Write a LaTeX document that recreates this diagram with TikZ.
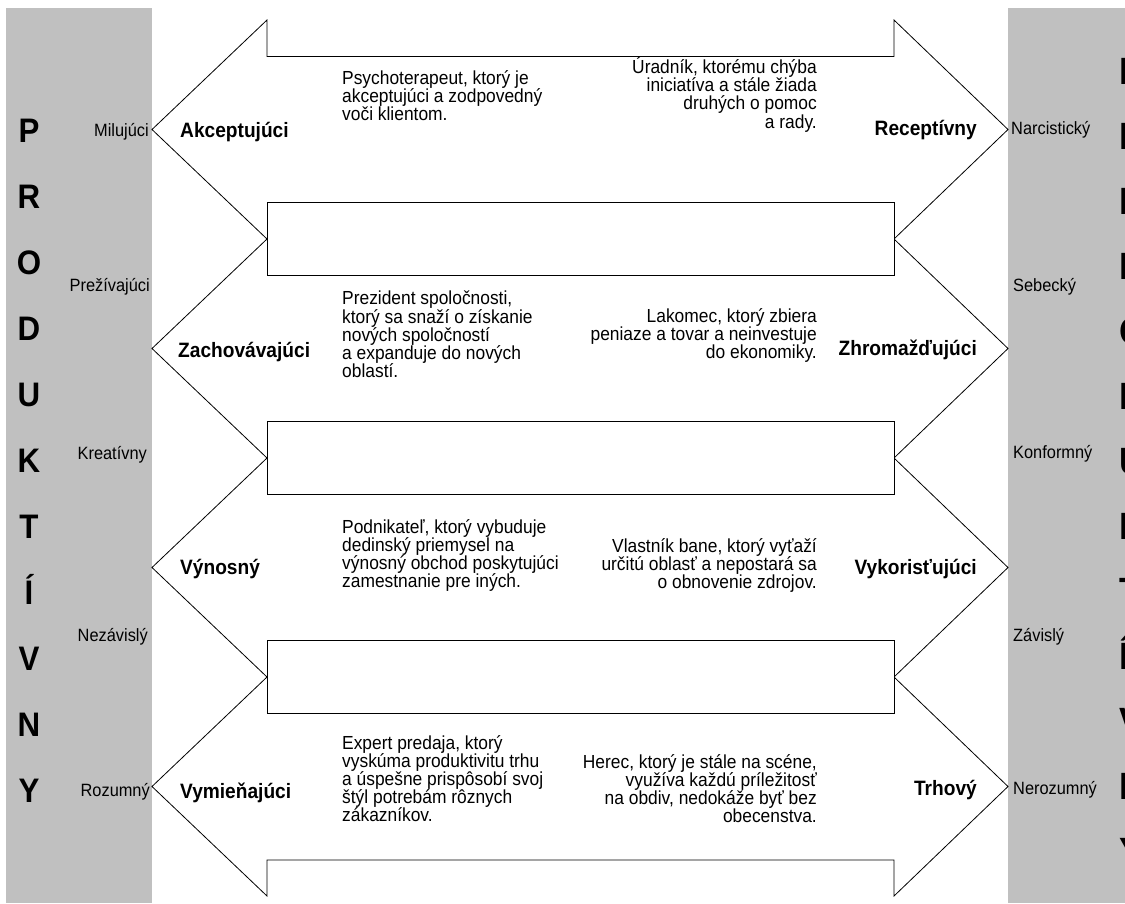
\documentclass[tikz,border=0pt]{standalone}
\usepackage{fontspec}
\setmainfont{Liberation Sans}[FakeStretch=0.92]
\definecolor{stripgray}{RGB}{192,192,192}
\begin{document}
\begin{tikzpicture}[x=1pt,y=-1pt,
  outline/.style={draw=black, line width=0.8pt, line join=miter},
  strip/.style={fill=stripgray, draw=none},
  bigletter/.style={font=\fontsize{34}{34}\selectfont\bfseries, inner sep=0pt, anchor=base},
  bigletterR/.style={font=\fontsize{38}{38}\selectfont\bfseries, inner sep=0pt, anchor=base west},
  traitL/.style={font=\fontsize{17.8}{18}\selectfont, inner sep=0pt, anchor=base east},
  traitR/.style={font=\fontsize{17.8}{18}\selectfont, inner sep=0pt, anchor=base west},
  kindL/.style={font=\fontsize{20.8}{21}\selectfont\bfseries, inner sep=0pt, anchor=base west},
  kindR/.style={font=\fontsize{20.8}{21}\selectfont\bfseries, inner sep=0pt, anchor=base east},
  exampleL/.style={font=\fontsize{18.9}{18.2}\selectfont, inner sep=0pt, align=left, anchor=north west},
  exampleR/.style={font=\fontsize{18.9}{18.2}\selectfont, inner sep=0pt, align=right, anchor=north east}]

\useasboundingbox (0,0) rectangle (1125,903);
\fill[white] (0,0) rectangle (1125,903);

% side strips
\fill[strip] (6,8) rectangle (152,903);
\fill[strip] (1008,8) rectangle (1125,903);

% four stacked double-headed arrows as one outline
\draw[outline, fill=white]
  (267,20) -- (267,56.5) -- (894,56.5) -- (894,20)
  -- (1008,129.5) -- (894,239) -- (1008,348.5) -- (894,458)
  -- (1008,567.5) -- (894,677) -- (1008,786.5) -- (894,896)
  -- (894,860) -- (267,860) -- (267,896)
  -- (152,786.5) -- (267,677) -- (152,567.5) -- (267,458)
  -- (152,348.5) -- (267,239) -- (152,129.5) -- cycle;

% gaps between the arrows
\draw[outline, fill=white] (267,202.5) rectangle (894,275.5);
\draw[outline, fill=white] (267,421.5) rectangle (894,494.5);
\draw[outline, fill=white] (267,640.5) rectangle (894,713.5);

% left strip: PRODUKTIVNY
\foreach \ch [count=\i from 0] in {P,R,O,D,U,K,T,Í,V,N,Y}
  \node[bigletter] (pl\i) at (29,{142+66*\i}) {\ch};

% right strip: NEPRODUKTIVNY, running off the edge
\begin{scope}
\clip (0,0) rectangle (1125,903);
\foreach \ch [count=\i from 0] in {N,E,P,R,O,D,U,K,T,Í,V,N,Y}
  \node[bigletterR] (pr\i) at (1119,{84+65*\i}) {\ch};
\end{scope}

% traits in the left strip
\node[traitL] (t1) at (149,136) {Milujúci};
\node[traitL] (t2) at (150,291) {Prežívajúci};
\node[traitL] (t3) at (147,459) {Kreatívny};
\node[traitL] (t4) at (148,641) {Nezávislý};
\node[traitL] (t5) at (150,796) {Rozumný};

% traits in the right strip
\node[traitR] (u1) at (1011,134) {Narcistický};
\node[traitR] (u2) at (1013,291) {Sebecký};
\node[traitR] (u3) at (1013,458) {Konformný};
\node[traitR] (u4) at (1013,641) {Závislý};
\node[traitR] (u5) at (1013,794) {Nerozumný};

% orientations
\node[kindL] (k1) at (180,137) {Akceptujúci};
\node[kindL] (k2) at (178,357) {Zachovávajúci};
\node[kindL] (k3) at (180,574) {Výnosný};
\node[kindL] (k4) at (180,798) {Vymieňajúci};
\node[kindR] (r1) at (977,135) {Receptívny};
\node[kindR] (r2) at (977,355) {Zhromažďujúci};
\node[kindR] (r3) at (977,574) {Vykorisťujúci};
\node[kindR] (r4) at (977,795) {Trhový};

% examples
\node[exampleL] (e1) at (342,70) {Psychoterapeut, ktorý je\\akceptujúci a zodpovedný\\voči klientom.};
\node[exampleR] (f1) at (817,57) {Úradník, ktorému chýba\\iniciatíva a stále žiada\\druhých o pomoc\\a rady.};
\node[exampleL] (e2) at (342,291) {Prezident spoločnosti,\\ktorý sa snaží o získanie\\nových spoločností\\a expanduje do nových\\oblastí.};
\node[exampleR] (f2) at (817,308) {Lakomec, ktorý zbiera\\peniaze a tovar a neinvestuje\\do ekonomiky.};
\node[exampleL] (e3) at (342,519) {Podnikateľ, ktorý vybuduje\\dedinský priemysel na\\výnosný obchod poskytujúci\\zamestnanie pre iných.};
\node[exampleR] (f3) at (817,538) {Vlastník bane, ktorý vyťaží\\určitú oblasť a nepostará sa\\o obnovenie zdrojov.};
\node[exampleL] (e4) at (342,735) {Expert predaja, ktorý\\vyskúma produktivitu trhu\\a úspešne prispôsobí svoj\\štýl potrebám rôznych\\zákazníkov.};
\node[exampleR] (f4) at (817,754) {Herec, ktorý je stále na scéne,\\využíva každú príležitosť\\na obdiv, nedokáže byť bez\\obecenstva.};

\end{tikzpicture}
\end{document}
